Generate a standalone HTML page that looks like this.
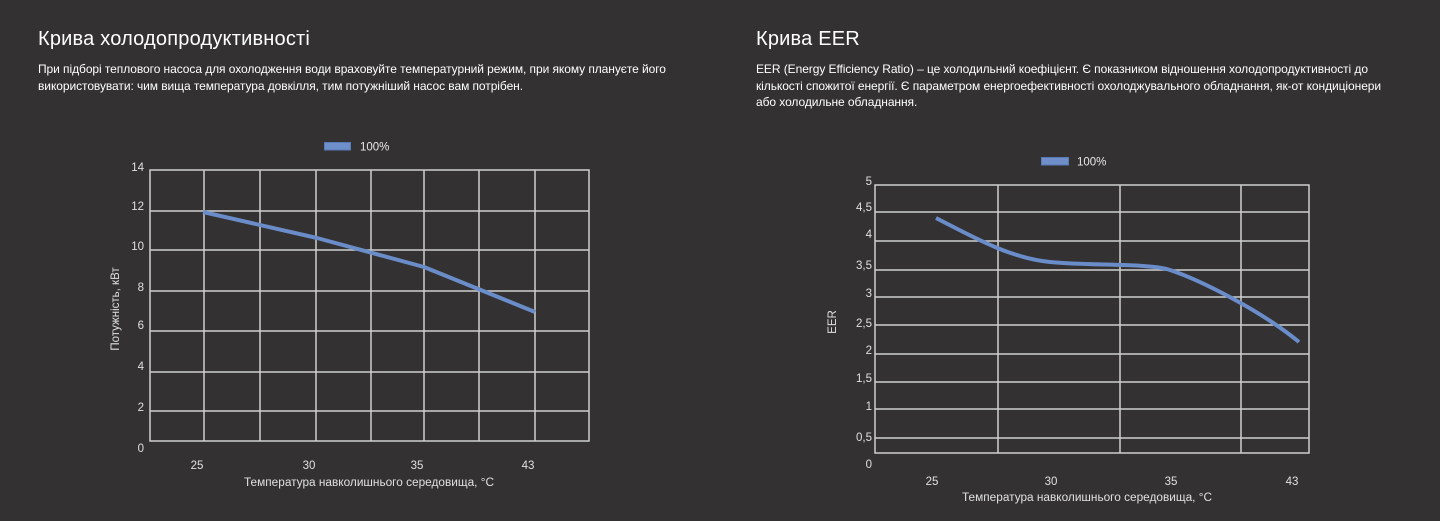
<!DOCTYPE html>
<html><head><meta charset="utf-8"><style>
html,body{margin:0;padding:0;background:#333132;width:1440px;height:521px;overflow:hidden}
body{position:relative;font-family:"Liberation Sans",Arial,sans-serif;color:#fff}
.t{position:absolute;font-size:20px;line-height:24px;white-space:nowrap;letter-spacing:0.2px}
.p{position:absolute;font-size:12px;line-height:16.5px;white-space:nowrap;letter-spacing:-0.07px}
svg{position:absolute;left:0;top:0}
</style></head><body>
<div class="t" style="left:38px;top:27px">Крива холодопродуктивності</div>
<div class="p" style="left:38px;top:61px">При підборі теплового насоса для охолодження води враховуйте температурний режим, при якому плануєте його<br>використовувати: чим вища температура довкілля, тим потужніший насос вам потрібен.</div>
<div class="t" style="left:756px;top:27px">Крива EER</div>
<div class="p" style="left:756px;top:61px">EER (Energy Efficiency Ratio) – це холодильний коефіцієнт. Є показником відношення холодопродуктивності до<br>кількості спожитої енергії. Є параметром енергоефективності охолоджувального обладнання, як-от кондиціонери<br>або холодильне обладнання.</div>
<svg width="1440" height="521" viewBox="0 0 1440 521" font-family="Liberation Sans, Arial, sans-serif">
 <g stroke="#cfcfcf" stroke-width="1.5" fill="none">
  <rect x="150" y="170" width="439" height="271"/>
  <line x1="150" y1="211" x2="589" y2="211"/>
  <line x1="150" y1="250" x2="589" y2="250"/>
  <line x1="150" y1="291" x2="589" y2="291"/>
  <line x1="150" y1="331" x2="589" y2="331"/>
  <line x1="150" y1="372" x2="589" y2="372"/>
  <line x1="150" y1="411" x2="589" y2="411"/>
  <line x1="204" y1="170" x2="204" y2="441"/>
  <line x1="260" y1="170" x2="260" y2="441"/>
  <line x1="316" y1="170" x2="316" y2="441"/>
  <line x1="371" y1="170" x2="371" y2="441"/>
  <line x1="424" y1="170" x2="424" y2="441"/>
  <line x1="479" y1="170" x2="479" y2="441"/>
  <line x1="535" y1="170" x2="535" y2="441"/>
  <rect x="875" y="185" width="434" height="268"/>
  <line x1="875" y1="212" x2="1309" y2="212"/>
  <line x1="875" y1="241" x2="1309" y2="241"/>
  <line x1="875" y1="270" x2="1309" y2="270"/>
  <line x1="875" y1="297" x2="1309" y2="297"/>
  <line x1="875" y1="325" x2="1309" y2="325"/>
  <line x1="875" y1="354" x2="1309" y2="354"/>
  <line x1="875" y1="382" x2="1309" y2="382"/>
  <line x1="875" y1="409" x2="1309" y2="409"/>
  <line x1="875" y1="438" x2="1309" y2="438"/>
  <line x1="998" y1="185" x2="998" y2="453"/>
  <line x1="1120" y1="185" x2="1120" y2="453"/>
  <line x1="1241" y1="185" x2="1241" y2="453"/>
 </g>
 <polyline points="203,212 317,238 424,267 535,312" fill="none" stroke="#6a8cc8" stroke-width="4" stroke-linejoin="round"/>
 <path d="M936,218 C975,238 1010,258 1050,262 C1090,266 1150,263 1170,270 C1200,280 1260,310 1299,342" fill="none" stroke="#6a8cc8" stroke-width="4"/>
 <rect x="324.5" y="142.5" width="26" height="7.5" fill="#6f8fca" stroke="#5a7ab5" stroke-width="1"/>
 <text x="360" y="150.5" font-size="11.5" fill="#e8e8e8">100%</text>
 <rect x="1041.5" y="157.5" width="27" height="7.5" fill="#6f8fca" stroke="#5a7ab5" stroke-width="1"/>
 <text x="1077" y="165.5" font-size="11.5" fill="#e8e8e8">100%</text>
 <g font-size="11.5" fill="#e0e0e0" text-anchor="end">
  <text x="144" y="171">14</text>
  <text x="144" y="210">12</text>
  <text x="144" y="250">10</text>
  <text x="144" y="291">8</text>
  <text x="144" y="329">6</text>
  <text x="144" y="370">4</text>
  <text x="144" y="411">2</text>
  <text x="144" y="452">0</text>
 </g>
 <g font-size="11.5" fill="#e0e0e0" text-anchor="middle">
  <text x="197" y="469">25</text>
  <text x="309" y="469">30</text>
  <text x="417" y="469">35</text>
  <text x="528" y="469">43</text>
  <text x="369" y="486" textLength="250" lengthAdjust="spacingAndGlyphs">Температура навколишнього середовища, °C</text>
 </g>
 <text transform="translate(119,309) rotate(-90)" font-size="11.5" fill="#e0e0e0" text-anchor="middle">Потужність, кВт</text>
 <g font-size="11.5" fill="#e0e0e0" text-anchor="end">
  <text x="872" y="185">5</text>
  <text x="872" y="211">4,5</text>
  <text x="872" y="238">4</text>
  <text x="872" y="269">3,5</text>
  <text x="872" y="297">3</text>
  <text x="872" y="327">2,5</text>
  <text x="872" y="354">2</text>
  <text x="872" y="382">1,5</text>
  <text x="872" y="410">1</text>
  <text x="872" y="441">0,5</text>
  <text x="872" y="468">0</text>
 </g>
 <g font-size="11.5" fill="#e0e0e0" text-anchor="middle">
  <text x="932" y="485">25</text>
  <text x="1051" y="485">30</text>
  <text x="1171" y="485">35</text>
  <text x="1292" y="485">43</text>
  <text x="1087" y="501" textLength="250" lengthAdjust="spacingAndGlyphs">Температура навколишнього середовища, °C</text>
 </g>
 <text transform="translate(836,322) rotate(-90)" font-size="11.5" fill="#e0e0e0" text-anchor="middle">EER</text>
</svg>
</body></html>
